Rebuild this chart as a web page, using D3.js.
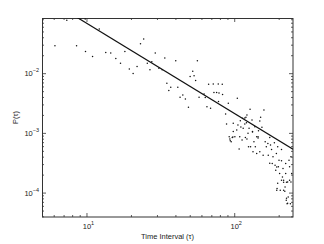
<!DOCTYPE html>
<html>
<head>
<meta charset="utf-8">
<script src="https://cdn.jsdelivr.net/npm/d3@7"></script>
<style>
  body { margin: 0; background: #fff; }
  text { font-family: "Liberation Sans", Arial, sans-serif; fill: #222; }
</style>
</head>
<body>
<div id="chart"></div>
<script>
// Waiting times tau and their probability P(tau)
const tau = [6.12, 7.36, 8.57, 9.85, 9.80, 11.0, 12.2, 13.5, 14.6, 15.8, 17.0, 18.2, 19.5, 20.7, 22.0,
    23.2, 24.4, 25.8, 26.9, 27.7, 29.2, 30.9, 32.5, 33.9, 35.0, 36.1, 37.2, 40.2, 41.5, 43.0,
    44.9, 46.7, 49.0, 50.3, 52.4, 53.5, 54.8, 56.3, 57.8, 62.5, 63.7, 65.4, 67.1, 69.2, 72.1,
    72.9, 76.0, 78.0, 78.3, 83.0, 83.4, 87.5, 88.8, 91.2, 92.5, 94.0, 95.4, 97.0, 98.5, 101,
    105, 104, 108, 110, 113, 115, 118, 120, 122, 119, 122, 125, 128, 132, 133,
    136, 139, 142, 146, 151, 154, 159, 162, 165, 170, 174, 179, 183, 189, 193,
    199, 203, 209, 216, 221, 225, 232, 237, 245, 195, 205, 216, 228, 242, 230,
    214, 223, 235, 242, 197, 209, 187, 176, 157, 149, 142, 134, 129, 124, 109,
    106, 114, 98.5, 121, 138, 145, 169, 181, 191, 201, 212, 223, 237, 240, 78.9,
    174, 194, 209, 197, 216, 226, 220, 194, 226, 230, 133, 145, 149, 97.9, 93.5,
    111, 126, 118];
const prob = [0.0288, 0.0767, 0.0288, 0.0231, 0.081, 0.0191, 0.0549, 0.0222, 0.0217, 0.0176, 0.0147, 0.0231, 0.0117, 0.00987, 0.0129,
    0.0311, 0.0373, 0.0147, 0.0114, 0.0155, 0.0217, 0.0121, 0.0114, 0.0179, 0.00679, 0.00512, 0.00582, 0.0161, 0.00582, 0.00395,
    0.00433, 0.00371, 0.00268, 0.00879, 0.0108, 0.00902, 0.00753, 0.0161, 0.00395, 0.00450, 0.00390, 0.00275, 0.00653, 0.00258, 0.00662,
    0.00473, 0.00473, 0.00662, 0.00334, 0.00653, 0.00438, 0.00207, 0.00141, 0.00313, 0.000863, 0.000739, 0.000711, 0.000840, 0.00105, 0.000863,
    0.00380, 0.00112, 0.000535, 0.00160, 0.000758, 0.00119, 0.00141, 0.00182, 0.00199, 0.000840, 0.000787, 0.000585, 0.00248, 0.00164, 0.00105,
    0.000711, 0.000585, 0.000863, 0.00109, 0.00182, 0.00124, 0.00242, 0.000711, 0.000585, 0.000423, 0.000840, 0.000528, 0.000397, 0.000288, 0.000452,
    0.000270, 0.000208, 0.000340, 0.000161, 0.000124, 0.0000743, 0.0000845, 0.000161, 0.000208, 0.000117, 0.000109, 0.000109, 0.0000653, 0.000151, 0.000151,
    0.000253, 0.000307, 0.000349, 0.000397, 0.000585, 0.000528, 0.000684, 0.000625, 0.000423, 0.000482, 0.000452, 0.000482, 0.000585, 0.000982, 0.000863,
    0.00136, 0.00175, 0.00145, 0.00148, 0.00127, 0.000863, 0.000667, 0.000307, 0.000237, 0.000349, 0.000183, 0.000208, 0.000270, 0.0000653, 0.00467,
    0.000311, 0.000267, 0.000161, 0.000144, 0.000149, 0.000149, 0.000105, 0.000109, 0.0000803, 0.0000662, 0.00103, 0.000818, 0.00158, 0.000851, 0.000787,
    0.00125, 0.00120, 0.00177];

// Power-law fit P = C * tau^alpha
const fitC = 2.23;
const fitAlpha = -1.51;

const xDomain = [5, 250];
const yDomain = [3.9e-5, 0.084];
const xMajor = [10, 100];
const yMajor = [1e-4, 1e-3, 1e-2];

const width = 324, height = 244;
const margin = { top: 18, right: 31, bottom: 27, left: 42 };
const w = width - margin.left - margin.right;
const h = height - margin.top - margin.bottom;

const svg = d3.select("#chart").append("svg")
    .attr("width", width)
    .attr("height", height);

const g = svg.append("g")
    .attr("transform", `translate(${margin.left},${margin.top})`);

const x = d3.scaleLog().domain(xDomain).range([0, w]);
const y = d3.scaleLog().domain(yDomain).range([h, 0]);

const xMinor = x.ticks().filter(t => !xMajor.includes(t));
const yMinor = y.ticks().filter(t => !yMajor.some(m => Math.abs(m - t) / m < 1e-6));

// ticks pointing inward on all four sides
function ticks(axisFn, scale, values, size, transform) {
    const a = g.append("g")
        .attr("transform", transform)
        .call(axisFn(scale).tickValues(values).tickSize(-size).tickFormat(""));
    a.select(".domain").remove();
    a.selectAll(".tick line").attr("stroke", "#333").attr("stroke-width", 0.8);
    return a;
}
[[xMajor, 4], [xMinor, 2]].forEach(([v, s]) => {
    ticks(d3.axisBottom, x, v, s, `translate(0,${h})`);
    ticks(d3.axisTop, x, v, s, "translate(0,0)");
});
[[yMajor, 4], [yMinor, 2]].forEach(([v, s]) => {
    ticks(d3.axisLeft, y, v, s, "translate(0,0)");
    ticks(d3.axisRight, y, v, s, `translate(${w},0)`);
});

// frame
g.append("rect")
    .attr("x", 0.5).attr("y", 0.5)
    .attr("width", w - 0.5).attr("height", h - 0.5)
    .attr("fill", "none")
    .attr("stroke", "#333")
    .attr("stroke-width", 1);

// tick labels 10^n
function powLabel(sel, v) {
    const e = Math.round(Math.log10(v));
    sel.append("tspan").text("10");
    sel.append("tspan")
        .attr("dy", -4)
        .attr("font-size", 5.5)
        .text(e < 0 ? "\u2212" + (-e) : e);
}
xMajor.forEach(v => {
    g.append("text")
        .attr("x", x(v) + 2)
        .attr("y", h + 12)
        .attr("text-anchor", "middle")
        .attr("font-size", 7.5)
        .call(powLabel, v);
});
yMajor.forEach(v => {
    g.append("text")
        .attr("x", -3)
        .attr("y", y(v) + 3)
        .attr("text-anchor", "end")
        .attr("font-size", 7.5)
        .call(powLabel, v);
});

// axis titles
svg.append("text")
    .attr("x", margin.left + w / 2)
    .attr("y", 239)
    .attr("text-anchor", "middle")
    .attr("font-size", 7.5)
    .text("Time Interval (\u03c4)");

svg.append("text")
    .attr("transform", `translate(18,${margin.top + h / 2}) rotate(-90)`)
    .attr("text-anchor", "middle")
    .attr("font-size", 7.5)
    .text("P(\u03c4)");

// clip for the data
svg.append("defs").append("clipPath").attr("id", "plotclip")
    .append("rect").attr("width", w).attr("height", h);

const plot = g.append("g").attr("clip-path", "url(#plotclip)");

const points = tau.map((t, i) => ({ t, p: prob[i] }));

plot.selectAll("circle")
    .data(points)
    .enter()
    .append("circle")
    .attr("cx", d => x(d.t))
    .attr("cy", d => y(d.p))
    .attr("r", 0.75)
    .attr("fill", "#111");

const fitLine = d3.line()
    .x(d => x(d))
    .y(d => y(fitC * Math.pow(d, fitAlpha)));

plot.append("path")
    .datum(xDomain)
    .attr("d", fitLine)
    .attr("fill", "none")
    .attr("stroke", "#111")
    .attr("stroke-width", 1.2);
</script>
</body>
</html>
